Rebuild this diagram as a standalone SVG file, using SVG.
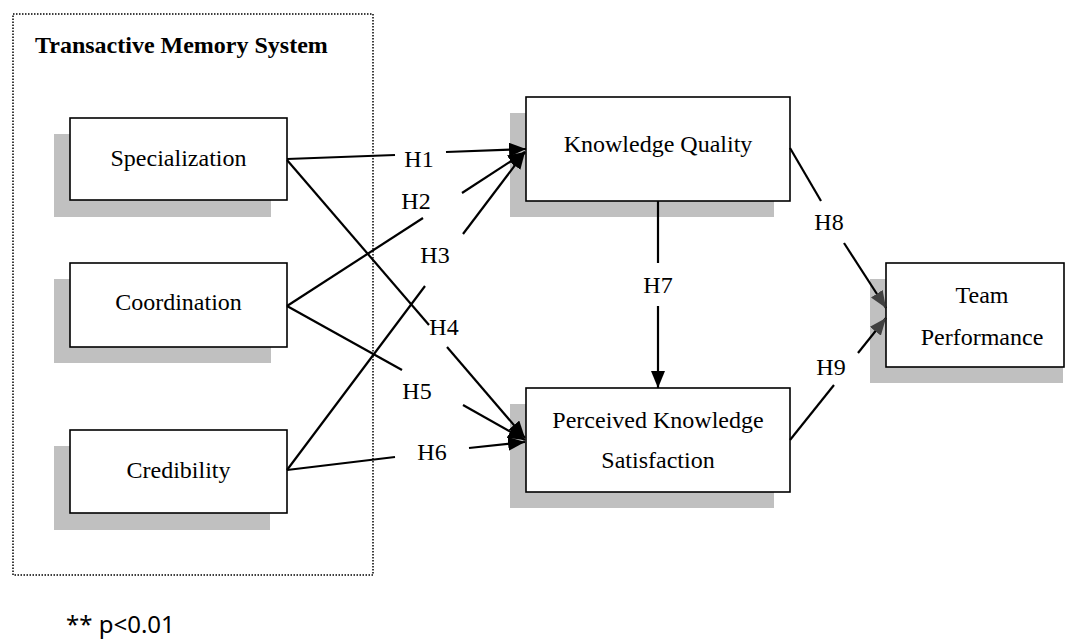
<svg xmlns="http://www.w3.org/2000/svg" width="1067" height="640" viewBox="0 0 1067 640">
<style>
.box{fill:#fff;stroke:#000;stroke-width:1.6}
.shadow{fill:#c0c0c0}
.t{font-family:"Liberation Serif","Times New Roman",serif;font-size:24px;fill:#000;text-anchor:middle}
.lbl{font-family:"Liberation Serif","Times New Roman",serif;font-size:24px;fill:#000;text-anchor:middle}
.c{stroke:#000;stroke-width:2.2;fill:none}
.cg{stroke:#000;stroke-width:2.2;fill:none}
</style>
<defs>
<marker id="ah" markerUnits="userSpaceOnUse" markerWidth="18" markerHeight="14" refX="17" refY="7" orient="auto">
<path d="M0,0 L17,7 L0,14 z" fill="#000"/>
</marker>
<marker id="ahg" markerUnits="userSpaceOnUse" markerWidth="18" markerHeight="14" refX="17" refY="7" orient="auto">
<path d="M0,0 L17,7 L0,14 z" fill="#404040"/>
</marker>
</defs>
<rect width="1067" height="640" fill="#fff"/>

<g id="tms-group">
<rect x="13" y="14" width="360" height="561" fill="none" stroke="#000" stroke-width="1.5" stroke-dasharray="1.5,1.5"/>
<text x="35" y="53" font-family="Liberation Serif, Times New Roman, serif" font-size="24" font-weight="bold">Transactive Memory System</text>
</g>

<g id="specialization">
<rect class="shadow" x="54" y="134" width="217" height="83"/>
<rect class="box" x="70" y="118" width="217" height="82"/>
<text class="t" x="178.5" y="166">Specialization</text>
</g>
<g id="coordination">
<rect class="shadow" x="54" y="279" width="217" height="84"/>
<rect class="box" x="70" y="263" width="217" height="84"/>
<text class="t" x="178.5" y="310">Coordination</text>
</g>
<g id="credibility">
<rect class="shadow" x="54" y="446" width="216" height="84"/>
<rect class="box" x="70" y="430" width="217" height="83"/>
<text class="t" x="178.5" y="478">Credibility</text>
</g>
<g id="knowledge-quality">
<rect class="shadow" x="510" y="113" width="264" height="104"/>
<rect class="box" x="526" y="97" width="264" height="104"/>
<text class="t" x="658" y="152">Knowledge Quality</text>
</g>
<g id="perceived-knowledge-satisfaction">
<rect class="shadow" x="510" y="404" width="264" height="104"/>
<rect class="box" x="526" y="388" width="264" height="104"/>
<text class="t" x="658" y="428">Perceived Knowledge</text>
<text class="t" x="658" y="468">Satisfaction</text>
</g>
<g id="team-performance">
<rect class="shadow" x="870" y="279" width="193" height="104"/>
<rect class="box" x="886" y="263" width="178" height="104"/>
<text class="t" x="982" y="303">Team</text>
<text class="t" x="982" y="345">Performance</text>
</g>

<g id="connectors">
<line class="c" x1="287" y1="159" x2="395" y2="155"/>
<line class="c" x1="446" y1="152" x2="526" y2="149" marker-end="url(#ah)"/>
<line class="c" x1="287" y1="306" x2="423" y2="218"/>
<line class="c" x1="462" y1="193" x2="525" y2="152" marker-end="url(#ah)"/>
<line class="c" x1="287" y1="470" x2="425" y2="286"/>
<line class="c" x1="463" y1="234" x2="525" y2="152" marker-end="url(#ah)"/>
<line class="c" x1="287" y1="160" x2="429" y2="325"/>
<line class="c" x1="447" y1="347" x2="525" y2="438" marker-end="url(#ah)"/>
<line class="c" x1="287" y1="306" x2="402" y2="370"/>
<line class="c" x1="463" y1="405" x2="525" y2="440" marker-end="url(#ah)"/>
<line class="c" x1="287" y1="470" x2="395" y2="457"/>
<line class="c" x1="469" y1="448" x2="525" y2="442" marker-end="url(#ah)"/>
<line class="c" x1="658" y1="201" x2="658" y2="263"/>
<line class="c" x1="658" y1="306" x2="658" y2="388" marker-end="url(#ah)"/>
<line class="c" x1="790" y1="148" x2="821" y2="201"/>
<line class="c" x1="844" y1="243" x2="886" y2="308" marker-end="url(#ahg)"/>
<line class="c" x1="790" y1="440" x2="834" y2="385"/>
<line class="c" x1="858" y1="353" x2="886" y2="318" marker-end="url(#ahg)"/>
</g>

<g id="labels">
<text class="lbl" x="419" y="167">H1</text>
<text class="lbl" x="416" y="209">H2</text>
<text class="lbl" x="435" y="263">H3</text>
<text class="lbl" x="444" y="335">H4</text>
<text class="lbl" x="417" y="399">H5</text>
<text class="lbl" x="432" y="460">H6</text>
<text class="lbl" x="658" y="293">H7</text>
<text class="lbl" x="829" y="230">H8</text>
<text class="lbl" x="831" y="375">H9</text>
</g>

<text x="66" y="633" font-family="Noto Sans, Liberation Sans, sans-serif" font-size="24" fill="#000">** p&lt;0.01</text>
</svg>
